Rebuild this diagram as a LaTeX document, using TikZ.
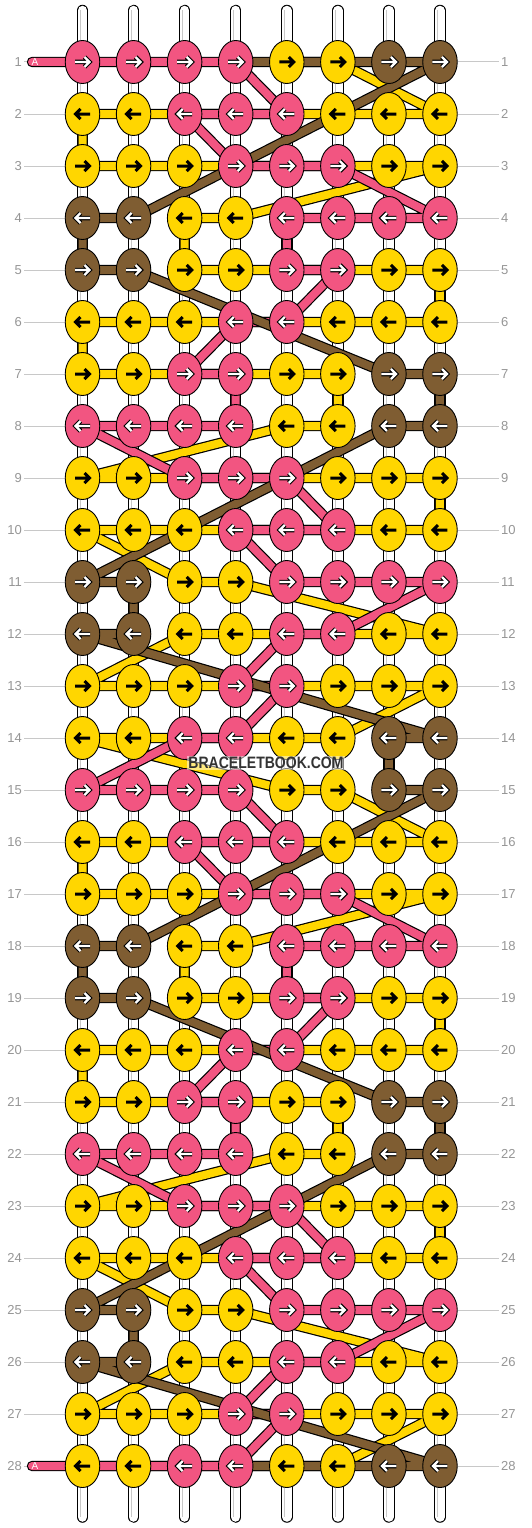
\documentclass[tikz,border=0pt]{standalone}
\usepackage{fontspec}
\setmainfont{Liberation Sans}
\usepackage{graphicx}
\usetikzlibrary{shapes.geometric, backgrounds}
\definecolor{kpink}{RGB}{242,85,129}
\definecolor{kyellow}{RGB}{255,214,0}
\definecolor{kbrown}{RGB}{127,93,50}
\definecolor{labelgray}{RGB}{150,150,150}
\definecolor{rulegray}{RGB}{200,200,200}
\definecolor{markgray}{RGB}{51,51,51}
\tikzset{
  knot/.style={ellipse, draw=black, line width=0.9pt, minimum width=34.5pt, minimum height=43pt, inner sep=0pt},
  knotP/.style={knot, fill=kpink},
  knotY/.style={knot, fill=kyellow},
  knotB/.style={knot, fill=kbrown},
  arrwhite/.style={draw=white, line width=2.3pt, preaction={draw=black, line width=4.5pt}},
  arrblack/.style={draw=black, line width=3pt},
  arrP/.style={arrwhite}, arrY/.style={arrblack}, arrB/.style={arrwhite},
  strand/.style={draw=white, line width=9.5pt, line cap=round, preaction={draw=black, line width=11.5pt, line cap=round}},
  strandmark/.style={draw=rulegray, line width=1pt},
  thread/.style={line width=8pt, line join=round, line cap=round, preaction={draw=black, line width=10.4pt, line join=round, line cap=round}},
  rowlab/.style={text=labelgray, font=\fontsize{13}{13}\selectfont, inner sep=2pt},
  rowline/.style={draw=rulegray, line width=1pt},
  alab/.style={text=white, font=\fontsize{10}{10}\selectfont, inner sep=0pt},
  wmark/.style={text=markgray, font=\bfseries\fontsize{16.5}{16.5}\selectfont, fill=white, fill opacity=0.5, text opacity=1, inner sep=1pt}
}
\begin{document}
\begin{tikzpicture}[x=1pt, y=-1pt]
\useasboundingbox (0,0) rectangle (532,1528);

\foreach \o in {0,14} {
  \foreach \r/\row in {1/{P,P,P,P,Y,Y,B,B}, 2/{Y,Y,P,P,P,Y,Y,Y}, 3/{Y,Y,Y,P,P,P,Y,Y},
      4/{B,B,Y,Y,P,P,P,P}, 5/{B,B,Y,Y,P,P,Y,Y}, 6/{Y,Y,Y,P,P,Y,Y,Y}, 7/{Y,Y,P,P,Y,Y,B,B},
      8/{P,P,P,P,Y,Y,B,B}, 9/{Y,Y,P,P,P,Y,Y,Y}, 10/{Y,Y,Y,P,P,P,Y,Y}, 11/{B,B,Y,Y,P,P,P,P},
      12/{B,B,Y,Y,P,P,Y,Y}, 13/{Y,Y,Y,P,P,Y,Y,Y}, 14/{Y,Y,P,P,Y,Y,B,B}} {
    \pgfmathtruncatemacro\rr{\r+\o}
    \pgfmathtruncatemacro\dir{1-2*mod(\rr+1,2)}
    \foreach \k [count=\c] in \row {
      \node[knot\k] (k-\rr-\c) at (\c*51.07+31.43, \rr*52+10) {};
      \draw[arr\k, shift={(k-\rr-\c)}, xscale=\dir] (-7.5,0) -- (6.8,0) (2,-5) -- (7,0) -- (2,5);
    }
  }
}

\foreach \r in {1,...,28} {
  \node[rowlab, anchor=east] (ll-\r) at (24, \r*52+10) {\r};
  \node[rowlab, anchor=west] (rl-\r) at (499, \r*52+10) {\r};
}

\coordinate (aIn) at (32,62);
\coordinate (aOut) at (32,1466);
\node[alab] (a-top) at (35,62.5) {A};
\node[alab] (a-bot) at (35,1466.5) {A};

\node[wmark] (wm) at (266,763) {\scalebox{0.85}[1]{BRACELETBOOK.COM}};

\begin{scope}[on background layer]
  \fill[white] (0,0) rectangle (532,1528);
  \foreach \r in {1,...,28} {
    \draw[rowline] (ll-\r) -- (k-\r-1);
    \draw[rowline] (k-\r-8) -- (rl-\r);
  }
  \foreach \c in {1,...,8} {
    \coordinate (top-\c) at (\c*51.07+31.43, 10.5);
    \coordinate (bot-\c) at (\c*51.07+31.43, 1517);
    \draw[strand] (top-\c) -- (bot-\c);
    \draw[strandmark] ([xshift=-2pt]top-\c) -- ([xshift=-2pt]bot-\c);
  }
  \draw[thread, draw=kyellow] (k-1-5.center) \foreach \o in {0,14} {
    \foreach \r/\c [evaluate=\r as \rr using int(\r+\o)] in {1/5,1/6,2/8,2/7,2/6,2/2,2/1,
      3/1,3/2,3/3,3/7,3/8,4/4,4/3,5/3,5/4,5/7,5/8,6/8,6/7,6/6,6/3,6/2,6/1,7/1,7/2,7/5,7/6,
      8/6,8/5,9/1,9/2,9/6,9/7,9/8,10/8,10/7,10/3,10/2,10/1,11/3,11/4,12/8,12/7,12/4,12/3,
      13/1,13/2,13/3,13/6,13/7,13/8,14/6,14/5,14/2,14/1} { -- (k-\rr-\c.center) } };
  \draw[thread, draw=kpink] (aIn) \foreach \o in {0,14} {
    \foreach \r/\c [evaluate=\r as \rr using int(\r+\o)] in {1/1,1/2,1/3,1/4,2/5,2/4,2/3,
      3/4,3/5,3/6,4/8,4/7,4/6,4/5,5/5,5/6,6/5,6/4,7/3,7/4,8/4,8/3,8/2,8/1,9/3,9/4,9/5,
      10/6,10/5,10/4,11/5,11/6,11/7,11/8,12/6,12/5,13/4,13/5,14/4,14/3} { -- (k-\rr-\c.center) } }
    -- (aOut);
  \draw[thread, draw=kbrown] (k-1-4.center) \foreach \o in {0,14} {
    \foreach \r/\c [evaluate=\r as \rr using int(\r+\o)] in {1/7,1/8,4/2,4/1,5/1,5/2,
      7/7,7/8,8/8,8/7,11/1,11/2,12/2,12/1,14/8,14/7} { -- (k-\rr-\c.center) } }
    -- (k-28-4.center);
\end{scope}
\end{tikzpicture}
\end{document}
